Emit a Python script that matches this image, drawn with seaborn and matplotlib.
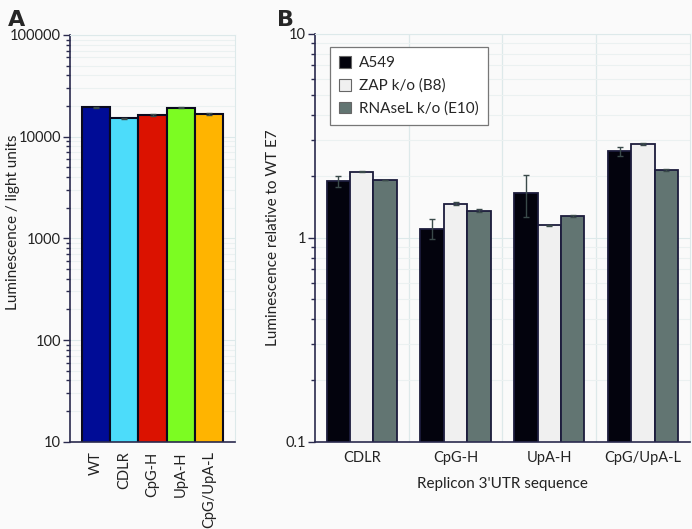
import numpy as np
import pandas as pd
import matplotlib
matplotlib.use('Agg')
import matplotlib.pyplot as plt
from matplotlib.ticker import LogLocator, NullFormatter, FixedLocator, FuncFormatter
import seaborn as sns

# Panel A data
a_labels = ['WT', 'CDLR', 'CpG-H', 'UpA-H', 'CpG/UpA-L']
a_values = [19400, 15100, 16300, 19200, 16800]
a_err = [300, 100, 400, 150, 400]
a_colors = ['#000c96', '#4cdcfa', '#db1200', '#7cfc22', '#ffb400']

# Panel B data
b_groups = ['CDLR', 'CpG-H', 'UpA-H', 'CpG/UpA-L']
b_series = ['A549', 'ZAP k/o (B8)', 'RNAseL k/o (E10)']
b_a549 = [1.90, 1.11, 1.65, 2.66]
b_a549_err = [0.12, 0.12, 0.38, 0.13]
b_zap = [2.11, 1.47, 1.15, 2.87]
b_zap_err = [0.02, 0.03, 0.01, 0.03]
b_rnasel = [1.92, 1.36, 1.28, 2.15]
b_rnasel_err = [0.01, 0.02, 0.02, 0.02]
b_colors = ['#03030d', '#f0f0f0', '#627572']

sns.set_style('white')
plt.rcParams['font.family'] = ['Lato', 'DejaVu Sans']
plt.rcParams['font.size'] = 10.5

bg = '#fafafa'
edge = '#1c1c3c'
grid_major = '#dde9ea'
grid_minor = '#ebf1f1'

fig = plt.figure(figsize=(6.92, 5.29), dpi=100, facecolor=bg)
axA = fig.add_axes([0.101, 0.165, 0.239, 0.769])
axB = fig.add_axes([0.455, 0.165, 0.542, 0.771])


def style_log_axis(ax):
    ax.set_facecolor(bg)
    ax.yaxis.set_minor_locator(LogLocator(base=10, subs=np.arange(2, 10)))
    ax.yaxis.set_minor_formatter(NullFormatter())
    ax.grid(which='major', axis='y', color=grid_major, lw=0.8, zorder=0)
    ax.grid(which='minor', axis='y', color=grid_minor, lw=0.8, zorder=0)
    ax.set_axisbelow(True)
    for s in ['left', 'bottom']:
        ax.spines[s].set_color('#2a2a4e')
        ax.spines[s].set_linewidth(1.2)
    for s in ['top', 'right']:
        ax.spines[s].set_color(grid_major)
        ax.spines[s].set_linewidth(0.8)
    ax.tick_params(axis='y', which='major', left=True, length=5, width=1, pad=1.5,
                   color='#2a2a4e', labelsize=10.5, colors='#222222')
    ax.tick_params(axis='y', which='minor', left=True, length=3, width=1, color='#2a2a4e')
    ax.tick_params(axis='x', which='both', bottom=False, labelsize=10.5, colors='#222222')


# Panel A
dfA = pd.DataFrame({'construct': a_labels, 'lum': a_values})
axA.set_yscale('log')
sns.barplot(data=dfA, x='construct', y='lum', hue='construct', palette=a_colors,
            width=1.0, errorbar=None, legend=False, edgecolor='#0a0a1e',
            linewidth=1.5, saturation=1, ax=axA, zorder=2)
xs = [p.get_x() + p.get_width() / 2 for c in axA.containers for p in c]
axA.errorbar(xs, a_values, yerr=a_err, fmt='none', ecolor='#3a4a4a', elinewidth=1,
             capsize=2.5, capthick=1, zorder=3)
axA.set_ylim(10, 100000)
axA.set_xlim(-0.92, len(a_labels) - 0.08)
style_log_axis(axA)
axA.yaxis.set_major_locator(FixedLocator([10, 100, 1000, 10000, 100000]))
axA.yaxis.set_major_formatter(FuncFormatter(lambda v, p: f'{int(v)}'))
axA.set_xlabel('')
axA.set_ylabel('Luminescence / light units', fontsize=11, color='#222222')
axA.yaxis.set_label_coords(-0.30, 0.54)
axA.tick_params(axis='x', rotation=90)

# Panel B
dfB = pd.DataFrame({
    'group': b_groups * 3,
    'cell': np.repeat(b_series, len(b_groups)),
    'rel': b_a549 + b_zap + b_rnasel,
})
errsB = [b_a549_err, b_zap_err, b_rnasel_err]
valsB = [b_a549, b_zap, b_rnasel]
axB.set_yscale('log')
sns.barplot(data=dfB, x='group', y='rel', hue='cell', palette=b_colors,
            width=0.75, gap=0, errorbar=None, edgecolor=edge, linewidth=1.3,
            saturation=1, ax=axB, zorder=2)
for cont, v, e in zip(axB.containers, valsB, errsB):
    xb = [p.get_x() + p.get_width() / 2 for p in cont]
    axB.errorbar(xb, v, yerr=e, fmt='none', ecolor='#3a4a4a', elinewidth=1,
                 capsize=2.5, capthick=1, zorder=3)
axB.set_ylim(0.1, 10)
axB.set_xlim(-0.5, len(b_groups) - 0.5)
style_log_axis(axB)
axB.yaxis.set_major_locator(FixedLocator([0.1, 1, 10]))
axB.yaxis.set_major_formatter(FuncFormatter(lambda v, p: f'{v:g}'))
for b in np.arange(len(b_groups) - 1) + 0.5:
    axB.axvline(b, color=grid_major, lw=0.9, zorder=0)
axB.set_xlabel("Replicon 3'UTR sequence", fontsize=11, color='#222222', labelpad=8)
axB.set_ylabel('Luminescence relative to WT E7', fontsize=11, color='#222222')
leg = axB.legend(loc='upper left', bbox_to_anchor=(0.04, 0.968), borderaxespad=0,
                 fontsize=11, frameon=True, fancybox=False, handlelength=0.8,
                 handleheight=0.8, handletextpad=0.5, borderpad=0.6, labelspacing=0.55)
leg.get_frame().set_edgecolor('#777777')
leg.get_frame().set_linewidth(0.9)
leg.get_frame().set_facecolor('white')
leg.get_frame().set_alpha(1)
for h in leg.legend_handles:
    h.set_edgecolor('#666666')
    h.set_linewidth(0.8)

fig.text(0.012, 0.963, 'A', fontsize=16, fontweight='bold', family='DejaVu Sans', va='center')
fig.text(0.400, 0.963, 'B', fontsize=16, fontweight='bold', family='DejaVu Sans', va='center')

fig.savefig('out.png', dpi=100, facecolor=bg)
